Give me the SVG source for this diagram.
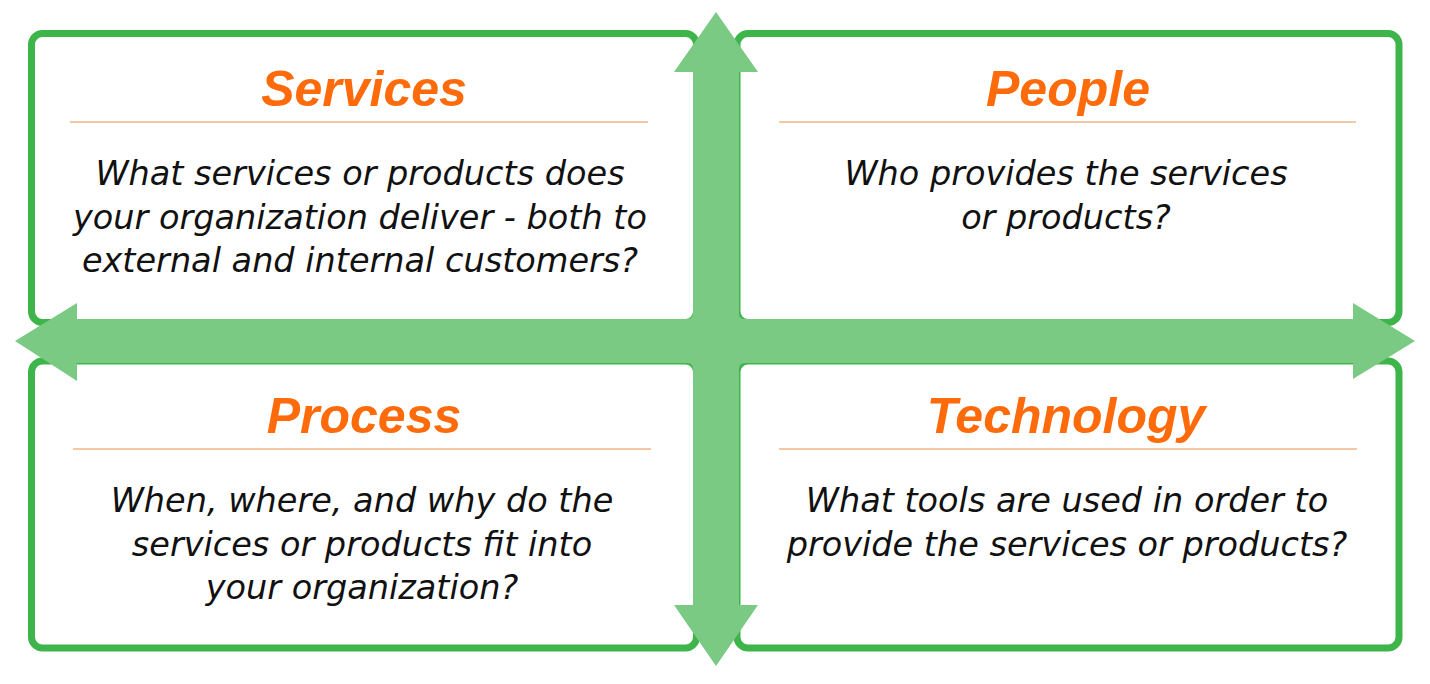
<svg xmlns="http://www.w3.org/2000/svg" width="1430" height="684" viewBox="0 0 1430 684">
<style>
.box{fill:#fff;stroke:#3DB54A;stroke-width:7}
.title{font-family:"Liberation Sans",Arial,sans-serif;font-weight:bold;font-style:italic;font-size:50px;fill:#FF6A0A;text-anchor:middle}
.sep{stroke:#F2C9A2;stroke-width:2}
.body{font-family:"DejaVu Sans",Verdana,sans-serif;font-style:italic;font-size:33.5px;fill:#111;text-anchor:middle}
.arrow{fill:#7BCA84}
</style>
<rect width="1430" height="684" fill="#fff"/>
<g id="services">
<rect class="box" x="31.5" y="33.5" width="665" height="289" rx="11"/>
<text class="title" x="364" y="106">Services</text>
<line class="sep" x1="70" y1="122" x2="648" y2="122"/>
<text class="body" x="360" y="185">What services or products does</text>
<text class="body" x="360" y="228.5">your organization deliver - both to</text>
<text class="body" x="360" y="272">external and internal customers?</text>
</g>
<g id="people">
<rect class="box" x="737" y="33.5" width="662" height="289" rx="11"/>
<text class="title" x="1068" y="106">People</text>
<line class="sep" x1="779" y1="122" x2="1356" y2="122"/>
<text class="body" x="1066" y="185">Who provides the services</text>
<text class="body" x="1066" y="228.5">or products?</text>
</g>
<g id="process">
<rect class="box" x="31.5" y="361" width="665" height="287" rx="11"/>
<text class="title" x="364" y="433">Process</text>
<line class="sep" x1="73" y1="449" x2="651" y2="449"/>
<text class="body" x="362" y="512">When, where, and why do the</text>
<text class="body" x="362" y="555.5">services or products fit into</text>
<text class="body" x="362" y="599">your organization?</text>
</g>
<g id="technology">
<rect class="box" x="737" y="361" width="662" height="287" rx="11"/>
<text class="title" x="1066" y="433">Technology</text>
<line class="sep" x1="779" y1="449" x2="1357" y2="449"/>
<text class="body" x="1067" y="512">What tools are used in order to</text>
<text class="body" x="1067" y="555.5">provide the services or products?</text>
</g>
<g id="connectors">
<path class="arrow" d="M716,12 L758,72 L739,72 L739,313 Q739,319 745,319 L1353,319 L1353,303 L1415,341 L1353,379 L1353,363 L745,363 Q739,363 739,369 L739,605 L758,605 L716,666 L674,605 L693,605 L693,369 Q693,363 687,363 L77,363 L77,381 L15,341 L77,303 L77,319 L687,319 Q693,319 693,313 L693,72 L674,72 Z"/>
</g>
</svg>
